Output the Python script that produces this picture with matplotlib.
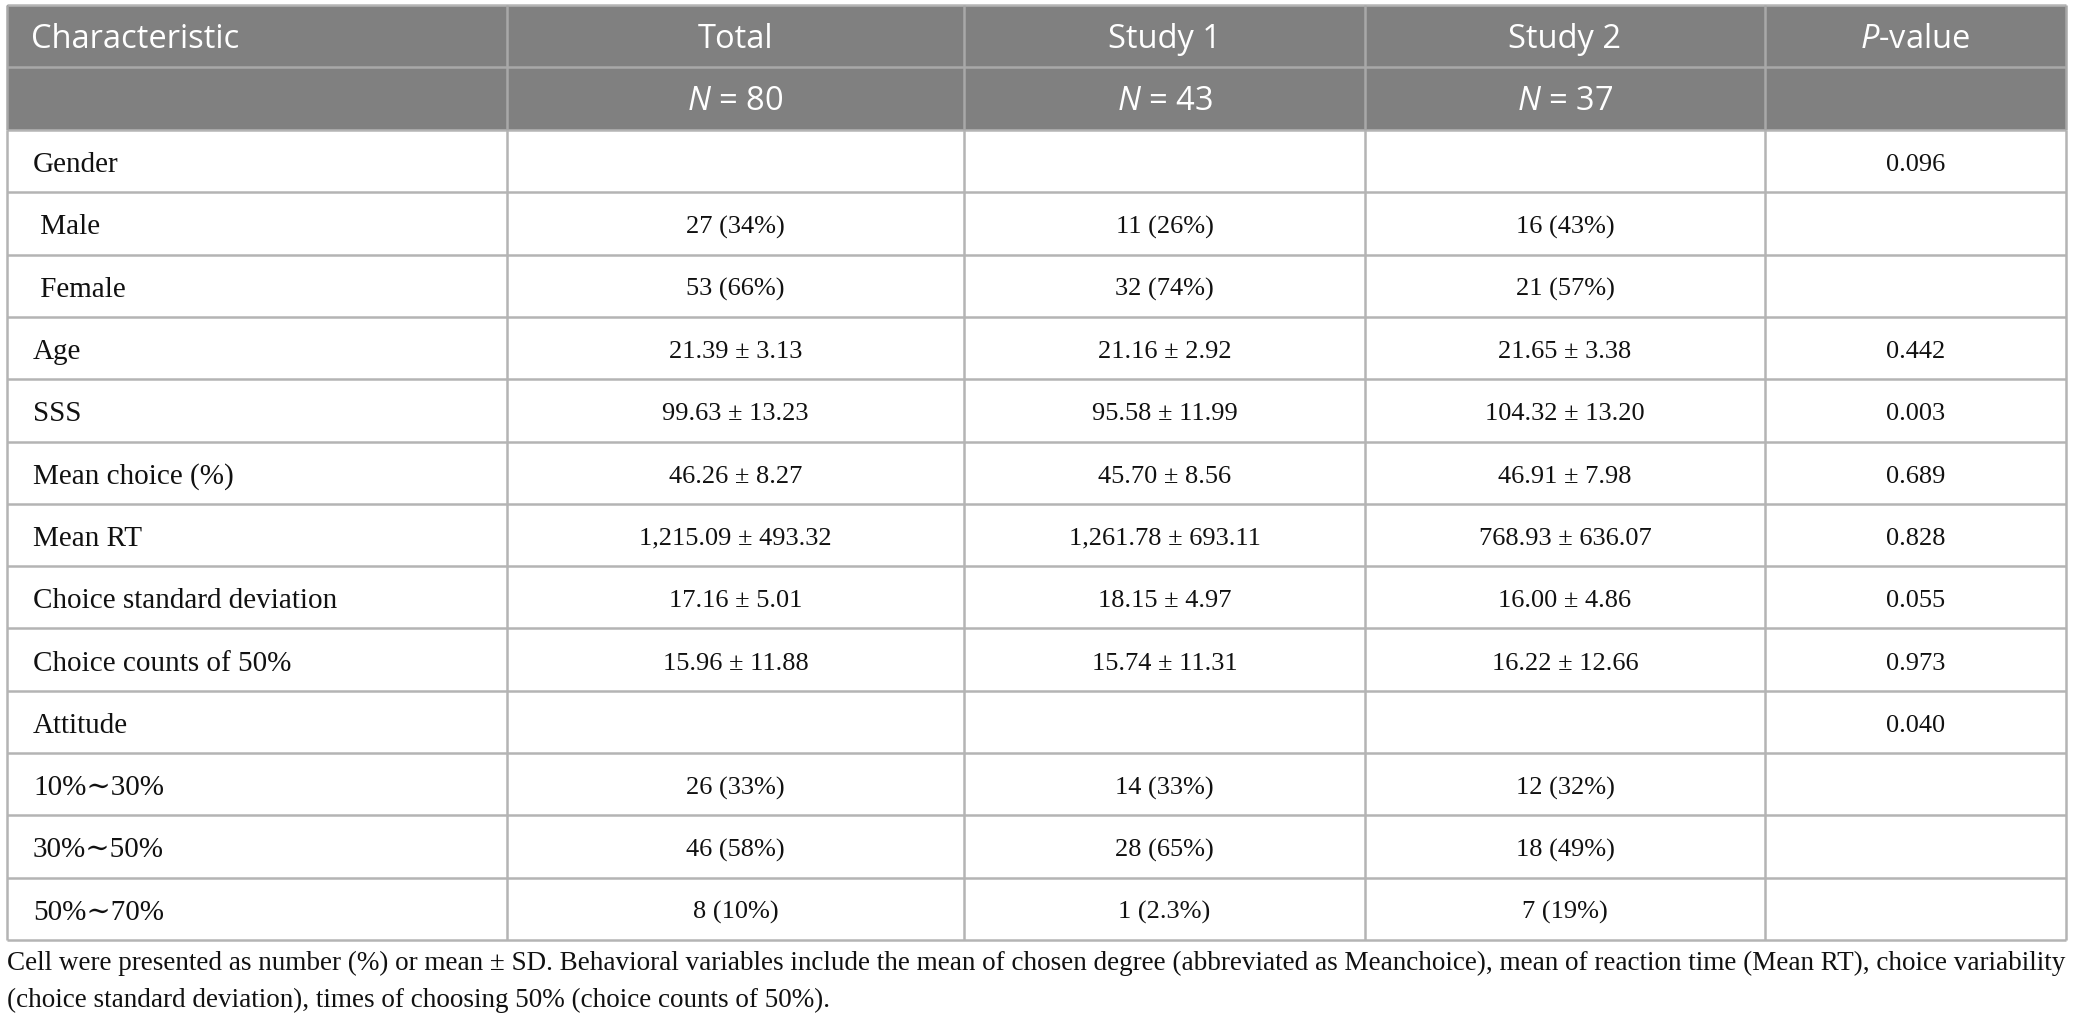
import matplotlib
matplotlib.use("Agg")
import matplotlib.pyplot as plt
from matplotlib.patches import Rectangle

# table contents
header = ["Characteristic", "Total", "Study 1", "Study 2", "-value"]
n_row = ["", "80", "43", "37", ""]
row_labels = ["Gender", " Male", " Female", "Age", "SSS", "Mean choice (%)", "Mean RT",
              "Choice standard deviation", "Choice counts of 50%", "Attitude",
              "10%\u223c30%", "30%\u223c50%", "50%\u223c70%"]
total = ["", "27 (34%)", "53 (66%)", "21.39 \u00b1 3.13", "99.63 \u00b1 13.23", "46.26 \u00b1 8.27",
         "1,215.09 \u00b1 493.32", "17.16 \u00b1 5.01", "15.96 \u00b1 11.88", "",
         "26 (33%)", "46 (58%)", "8 (10%)"]
study1 = ["", "11 (26%)", "32 (74%)", "21.16 \u00b1 2.92", "95.58 \u00b1 11.99", "45.70 \u00b1 8.56",
          "1,261.78 \u00b1 693.11", "18.15 \u00b1 4.97", "15.74 \u00b1 11.31", "",
          "14 (33%)", "28 (65%)", "1 (2.3%)"]
study2 = ["", "16 (43%)", "21 (57%)", "21.65 \u00b1 3.38", "104.32 \u00b1 13.20", "46.91 \u00b1 7.98",
          "768.93 \u00b1 636.07", "16.00 \u00b1 4.86", "16.22 \u00b1 12.66", "",
          "12 (32%)", "18 (49%)", "7 (19%)"]
pvalue = ["0.096", "", "", "0.442", "0.003", "0.689", "0.828", "0.055", "0.973", "0.040",
          "", "", ""]
footnote = ["Cell were presented as number (%) or mean \u00b1 SD. Behavioral variables include the mean of chosen degree (abbreviated as Meanchoice), mean of reaction time (Mean RT), choice variability",
            "(choice standard deviation), times of choosing 50% (choice counts of 50%)."]

W, H = 2074, 1031
col_edges = [7, 507, 964, 1365, 1765, 2066]
top, head_mid, head_bot = 5, 67, 130
row_h = 62.3

head_font = "Open Sans"
body_font = ["Liberation Serif", "DejaVu Serif"]
head_color = "#808080"
grid_color = "#b4b4b4"
text_color = "#111111"

plt.rcParams["mathtext.fontset"] = "custom"
plt.rcParams["mathtext.it"] = "Open Sans:italic"
plt.rcParams["mathtext.rm"] = "Open Sans"

fig = plt.figure(figsize=(W / 100, H / 100), dpi=100)
ax = fig.add_axes([0, 0, 1, 1])
ax.set_xlim(0, W)
ax.set_ylim(H, 0)
ax.axis("off")

# header background
ax.add_patch(Rectangle((col_edges[0], top), col_edges[-1] - col_edges[0], head_bot - top,
                       facecolor=head_color, edgecolor="none", zorder=1))

n_body = len(row_labels)
bottom = head_bot + n_body * row_h

# grid lines
ax.hlines(head_mid, col_edges[0], col_edges[-1], color="#a8a8a8", lw=1.8, zorder=2)
for i in range(n_body + 1):
    y = head_bot + i * row_h
    ax.hlines(y, col_edges[0], col_edges[-1], color=grid_color, lw=1.8, zorder=2)
ax.hlines(top, col_edges[0], col_edges[-1], color=grid_color, lw=1.8, zorder=2)
for x in col_edges:
    ax.vlines(x, top, head_bot, color="#a8a8a8", lw=1.8, zorder=2)
    ax.vlines(x, head_bot, bottom, color=grid_color, lw=1.8, zorder=2)

centers = [(col_edges[i] + col_edges[i + 1]) / 2 for i in range(len(col_edges) - 1)]

# header text
hs = 23.5
hy1 = (top + head_mid) / 2 + 3
hy2 = (head_mid + head_bot) / 2 + 3
ax.text(col_edges[0] + 24, hy1, header[0], fontsize=hs, family=head_font, color="white",
        ha="left", va="center")
for j in range(1, 4):
    ax.text(centers[j], hy1, header[j], fontsize=hs, family=head_font, color="white",
            ha="center", va="center")
    ax.text(centers[j], hy2, r"$\mathit{N}$ = " + n_row[j], fontsize=hs, family=head_font,
            color="white", ha="center", va="center")
ax.text(centers[4], hy1, r"$\mathit{P}$" + header[4], fontsize=hs, family=head_font,
        color="white", ha="center", va="center")

# body text
for i, lab in enumerate(row_labels):
    y = head_bot + (i + 0.5) * row_h + 4
    ax.text(col_edges[0] + 26, y, lab, fontsize=21, family=body_font, color=text_color,
            ha="left", va="center")
    for j, col in enumerate([total, study1, study2, pvalue]):
        ax.text(centers[j + 1], y, col[i], fontsize=19, family=body_font, color=text_color,
                ha="center", va="center")

# footnote
ax.text(col_edges[0], 963, footnote[0], fontsize=19.5, family=body_font, color=text_color,
        ha="left", va="center")
ax.text(col_edges[0], 1000, footnote[1], fontsize=19.5, family=body_font, color=text_color,
        ha="left", va="center")

fig.savefig("out.png", dpi=100, facecolor="white")
